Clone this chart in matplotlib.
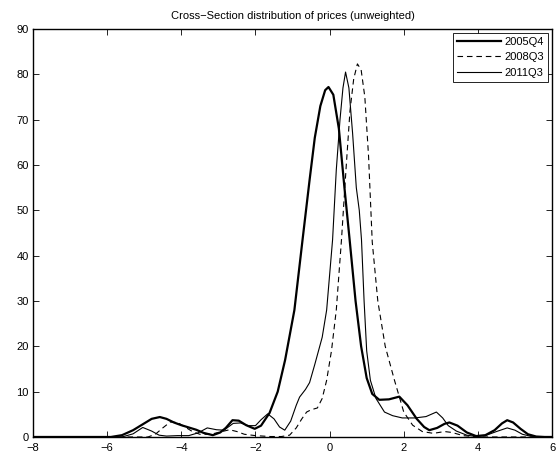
import matplotlib
matplotlib.use('Agg')
import matplotlib.pyplot as plt

plt.rcParams['font.family'] = ['Liberation Sans', 'DejaVu Sans']

# values (x = price change, y = density)
x_2005 = [-8.0, -5.9, -5.6, -5.3, -5.0, -4.8, -4.58, -4.4, -4.2, -4.0, -3.8, -3.6, -3.4, -3.15,
          -2.95, -2.8, -2.62, -2.45, -2.25, -2.02, -1.85, -1.62, -1.4, -1.2, -0.95, -0.73,
          -0.54, -0.4, -0.25, -0.12, -0.03, 0.1, 0.25, 0.4, 0.54, 0.7, 0.85, 1.0, 1.15, 1.34,
          1.6, 1.88, 2.1, 2.35, 2.55, 2.69, 2.9, 3.1, 3.23, 3.45, 3.7, 3.95, 4.2, 4.45, 4.65,
          4.79, 4.95, 5.15, 5.35, 5.57, 5.8, 6.0]
y_2005 = [0.0, 0.0, 0.4, 1.5, 3.0, 4.0, 4.4, 4.0, 3.2, 2.6, 2.1, 1.6, 0.9, 0.4,
          1.0, 2.0, 3.7, 3.6, 2.6, 1.8, 2.5, 5.3, 10.0, 17.0, 28.0, 43.5,
          56.7, 66.0, 73.0, 76.5, 77.2, 75.5, 68.0, 55.0, 43.5, 30.0, 20.0, 13.0, 9.5, 8.2,
          8.3, 8.9, 7.0, 4.0, 2.2, 1.5, 2.0, 2.9, 3.2, 2.5, 1.0, 0.2, 0.4, 1.5, 3.0,
          3.7, 3.2, 1.8, 0.6, 0.1, 0.0, 0.0]

x_2008 = [-8.0, -4.9, -4.7, -4.5, -4.3, -4.1, -3.9, -3.7, -3.5, -3.2, -2.9, -2.7, -2.5, -2.3,
          -2.0, -1.6, -1.3, -1.08, -0.9, -0.75, -0.62, -0.5, -0.33, -0.2, -0.08, 0.05, 0.18,
          0.32, 0.45, 0.55, 0.65, 0.75, 0.85, 0.95, 1.05, 1.15, 1.3, 1.5, 1.75, 2.0, 2.24,
          2.5, 2.8, 3.1, 3.3, 3.6, 4.0, 6.0]
y_2008 = [0.0, 0.0, 0.6, 2.0, 3.3, 3.2, 2.2, 1.2, 0.6, 0.6, 1.2, 1.6, 1.2, 0.6,
          0.3, 0.1, 0.1, 0.4, 2.0, 4.0, 5.5, 6.0, 6.4, 8.5, 12.5, 19.0, 28.0,
          43.5, 60.0, 72.0, 79.0, 82.3, 81.0, 75.0, 62.0, 43.0, 30.0, 20.0, 12.5, 5.5, 2.6,
          1.2, 0.8, 1.2, 1.0, 0.3, 0.0, 0.0]

x_2011 = [-8.0, -5.6, -5.3, -5.04, -4.8, -4.6, -4.4, -4.1, -3.8, -3.55, -3.3, -3.05, -2.85,
          -2.6, -2.4, -2.2, -2.0, -1.85, -1.67, -1.5, -1.35, -1.21, -1.05, -0.9, -0.81, -0.65,
          -0.54, -0.4, -0.2, -0.08, 0.08, 0.18, 0.28, 0.36, 0.43, 0.52, 0.62, 0.72, 0.8, 0.86,
          0.93, 1.0, 1.1, 1.25, 1.48, 1.7, 1.96, 2.3, 2.6, 2.88, 3.05, 3.2, 3.42, 3.7, 3.95,
          4.2, 4.5, 4.79, 5.0, 5.2, 5.4, 5.7, 6.0]
y_2011 = [0.0, 0.0, 0.7, 2.1, 1.3, 0.4, 0.2, 0.3, 0.3, 0.9, 2.0, 1.6, 1.5,
          3.0, 3.1, 2.5, 2.5, 3.8, 5.1, 4.0, 2.2, 1.5, 3.5, 7.0, 8.8, 10.5,
          12.0, 16.0, 22.0, 28.0, 43.5, 58.9, 70.0, 77.0, 80.5, 77.0, 67.0, 55.0, 50.0, 43.5,
          30.0, 19.0, 12.5, 8.5, 5.5, 4.7, 4.2, 4.2, 4.5, 5.5, 4.2, 2.5, 1.3, 0.4, 0.1,
          0.3, 1.2, 2.0, 1.5, 0.6, 0.2, 0.0, 0.0]

labels = ['2005Q4', '2008Q3', '2011Q3']
x_ticks = [-8, -6, -4, -2, 0, 2, 4, 6]
y_ticks = [0, 10, 20, 30, 40, 50, 60, 70, 80, 90]

fig = plt.figure(figsize=(5.56, 4.55), dpi=100)
ax = fig.add_axes([0.0594, 0.0396, 0.9335, 0.8967])

ax.plot(x_2005, y_2005, color='black', lw=1.6, label=labels[0])
ax.plot(x_2008, y_2008, color='black', lw=0.8, ls=(0, (5, 3.5)), label=labels[1])
ax.plot(x_2011, y_2011, color='black', lw=0.8, label=labels[2])

ax.set_xlim(-8, 6)
ax.set_ylim(0, 90)
ax.set_xticks(x_ticks)
ax.set_yticks(y_ticks)
ax.set_xticklabels([str(t).replace('-', '\u2212') for t in x_ticks])
ax.tick_params(direction='in', length=4, width=0.6, top=True, right=True,
               labelsize=8)
ax.tick_params(axis='x', pad=4)
ax.tick_params(axis='y', pad=3)
for sp in ax.spines.values():
    sp.set_linewidth(1.0)

ax.set_title('Cross\u2212Section distribution of prices (unweighted)', fontsize=8, pad=7)

leg = ax.legend(loc='upper right', fontsize=8, frameon=True, fancybox=False,
                handlelength=4.0, handletextpad=0.3, borderpad=0.35,
                labelspacing=0.5, borderaxespad=0.35)
leg.get_frame().set_edgecolor('black')
leg.get_frame().set_linewidth(0.6)
leg.get_frame().set_alpha(1)

fig.savefig('out.png', dpi=100)
